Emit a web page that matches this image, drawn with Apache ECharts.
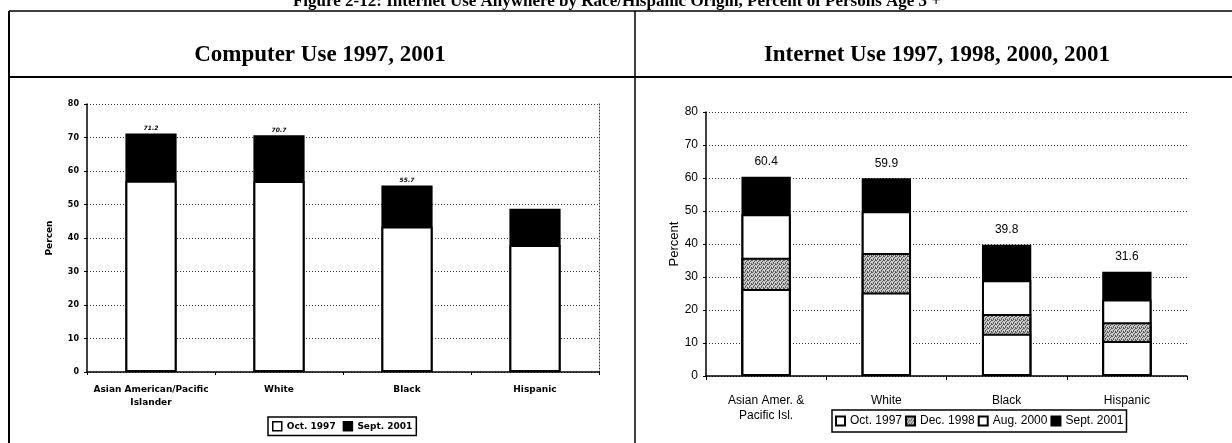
<!DOCTYPE html>
<html>
<head>
<meta charset="utf-8">
<script src="https://cdn.jsdelivr.net/npm/echarts@6/dist/echarts.min.js"></script>
<style>
html, body { margin: 0; padding: 0; background: #fff; }
#chartWrapper { width: 1232px; height: 443px; }
</style>
</head>
<body>
<div id="chartWrapper"></div>
<script>
var figureTitle = 'Figure 2-12: Internet Use Anywhere by Race/Hispanic Origin, Percent of Persons Age 3 +';
var leftTitle = 'Computer Use 1997, 2001';
var rightTitle = 'Internet Use 1997, 1998, 2000, 2001';

// computer use
var compCategories = ['Asian American/Pacific\nIslander', 'White', 'Black', 'Hispanic'];
var compOct1997 = [57.1, 57.0, 43.4, 37.9];
var compSept2001 = [71.2, 70.7, 55.7, 48.7];
var compLabels = ['71.2', '70.7', '55.7', ''];

// internet use
var netCategories = ['Asian Amer. &\nPacific Isl.', 'White', 'Black', 'Hispanic'];
var netOct1997 = [26.4, 25.3, 12.8, 10.6];
var netDec1998 = [35.8, 37.3, 18.8, 16.3];
var netAug2000 = [49.0, 49.9, 29.0, 23.2];
var netSept2001 = [60.4, 59.9, 39.8, 31.6];

var chart = echarts.init(document.getElementById('chartWrapper'));

// stippled fill for Dec. 1998
var stipple = document.createElement('canvas');
stipple.width = 4;
stipple.height = 4;
var sctx = stipple.getContext('2d');
sctx.fillStyle = '#c8c8c8';
sctx.fillRect(0, 0, 4, 4);
sctx.fillStyle = '#5a5a5a';
[[0, 0], [2, 1], [1, 2], [3, 3], [3, 0], [1, 3]].forEach(function (p) {
    sctx.fillRect(p[0], p[1], 1, 1);
});

var boldSmall = { fontFamily: 'DejaVu Sans', fontWeight: 'bold', color: '#000' };
var arial = { fontFamily: 'Liberation Sans', color: '#000' };

function valueAxis(gridIndex, font, size, name, nameGap, nameSize, margin) {
    return {
        type: 'value',
        gridIndex: gridIndex,
        min: 0,
        max: 80,
        interval: 10,
        name: name,
        nameLocation: 'middle',
        nameGap: nameGap,
        nameTextStyle: Object.assign({ fontSize: nameSize }, font),
        axisLine: { show: true, lineStyle: { color: '#000', width: 1.5 } },
        axisTick: { show: true, length: 3, lineStyle: { color: '#000' } },
        axisLabel: Object.assign({ fontSize: size, margin: margin }, font),
        splitLine: { show: true, lineStyle: { color: '#333', type: [1, 2], width: 1 } }
    };
}

var option = {
    backgroundColor: '#fff',
    animation: false,
    graphic: [
        { type: 'line', shape: { x1: 9, y1: 11, x2: 1232, y2: 11 }, style: { stroke: '#000', lineWidth: 1.5 } },
        { type: 'line', shape: { x1: 9, y1: 77, x2: 1232, y2: 77 }, style: { stroke: '#000', lineWidth: 2 } },
        { type: 'line', shape: { x1: 9, y1: 11, x2: 9, y2: 443 }, style: { stroke: '#000', lineWidth: 2 } },
        { type: 'line', shape: { x1: 635, y1: 11, x2: 635, y2: 443 }, style: { stroke: '#000', lineWidth: 1.5 } },
        {
            type: 'text', x: 617, y: 2,
            style: { text: figureTitle, fontFamily: 'Liberation Serif', fontWeight: 'bold', fontSize: 17, align: 'center', verticalAlign: 'middle', fill: '#000' }
        },
        {
            type: 'text', x: 320, y: 55,
            style: { text: leftTitle, fontFamily: 'Liberation Serif', fontWeight: 'bold', fontSize: 23, align: 'center', verticalAlign: 'middle', fill: '#000' }
        },
        {
            type: 'text', x: 937, y: 55,
            style: { text: rightTitle, fontFamily: 'Liberation Serif', fontWeight: 'bold', fontSize: 23, align: 'center', verticalAlign: 'middle', fill: '#000' }
        }
    ],
    grid: [
        { left: 87, top: 104, width: 512, height: 268 },
        { left: 706, top: 112, width: 481, height: 264 }
    ],
    legend: [
        {
            left: 268, top: 417,
            orient: 'horizontal',
            data: ['Oct. 1997', 'Sept. 2001'],
            icon: 'rect',
            itemWidth: 9, itemHeight: 9, itemGap: 7,
            padding: [4, 4],
            borderColor: '#000', borderWidth: 1.5,
            selectedMode: false,
            itemStyle: { borderColor: '#000', borderWidth: 1.5 },
            textStyle: Object.assign({ fontSize: 9 }, boldSmall)
        },
        {
            left: 832, top: 410,
            orient: 'horizontal',
            data: ['Oct. 1997', 'Dec. 1998', 'Aug. 2000', 'Sept. 2001'],
            icon: 'rect',
            itemWidth: 9, itemHeight: 9, itemGap: 3,
            padding: [5, 3],
            borderColor: '#000', borderWidth: 1.5,
            selectedMode: false,
            itemStyle: { borderColor: '#000', borderWidth: 2 },
            textStyle: Object.assign({ fontSize: 12 }, arial)
        }
    ],
    xAxis: [
        {
            type: 'category', gridIndex: 0, data: compCategories,
            axisLine: { lineStyle: { color: '#000', width: 1.5 } },
            axisTick: { show: true, length: 3, lineStyle: { color: '#000' } },
            axisLabel: Object.assign({ fontSize: 9, margin: 11, lineHeight: 13, interval: 0 }, boldSmall)
        },
        {
            type: 'category', gridIndex: 1, data: netCategories,
            axisLine: { lineStyle: { color: '#000', width: 1.5 } },
            axisTick: { show: true, length: 4, lineStyle: { color: '#000' } },
            axisLabel: Object.assign({ fontSize: 12, margin: 17, lineHeight: 15, interval: 0 }, arial)
        }
    ],
    yAxis: [
        valueAxis(0, boldSmall, 8, 'Percen', 33, 9, 8),
        valueAxis(1, arial, 12, 'Percent', 24, 13, 8),
        {
            // dotted right edge of the left plot
            type: 'value', gridIndex: 0, position: 'right', min: 0, max: 80,
            axisLine: { show: true, lineStyle: { color: '#333', type: [1, 2] } },
            axisTick: { show: false }, axisLabel: { show: false }, splitLine: { show: false }
        }
    ],
    series: [
        {
            name: 'Sept. 2001', type: 'bar', xAxisIndex: 0, yAxisIndex: 0,
            barWidth: '40%', barGap: '-100%',
            data: compSept2001,
            itemStyle: { color: '#000', borderColor: '#000', borderWidth: 2 },
            label: Object.assign({
                show: true, position: 'top', distance: 2, fontSize: 6, fontStyle: 'italic',
                formatter: function (p) { return compLabels[p.dataIndex]; }
            }, boldSmall)
        },
        {
            name: 'Oct. 1997', type: 'bar', xAxisIndex: 0, yAxisIndex: 0,
            barWidth: '40%', barGap: '-100%',
            data: compOct1997,
            itemStyle: { color: '#fff', borderColor: '#000', borderWidth: 2 }
        },
        {
            name: 'Sept. 2001', type: 'bar', xAxisIndex: 1, yAxisIndex: 1,
            barWidth: '41%', barGap: '-100%',
            data: netSept2001,
            itemStyle: { color: '#000', borderColor: '#000', borderWidth: 2 },
            label: Object.assign({ show: true, position: 'top', distance: 9, fontSize: 12 }, arial)
        },
        {
            name: 'Aug. 2000', type: 'bar', xAxisIndex: 1, yAxisIndex: 1,
            barWidth: '41%', barGap: '-100%',
            data: netAug2000,
            itemStyle: { color: '#fff', borderColor: '#000', borderWidth: 2 }
        },
        {
            name: 'Dec. 1998', type: 'bar', xAxisIndex: 1, yAxisIndex: 1,
            barWidth: '41%', barGap: '-100%',
            data: netDec1998,
            itemStyle: { color: { image: stipple, repeat: 'repeat' }, borderColor: '#000', borderWidth: 2 }
        },
        {
            name: 'Oct. 1997', type: 'bar', xAxisIndex: 1, yAxisIndex: 1,
            barWidth: '41%', barGap: '-100%',
            data: netOct1997,
            itemStyle: { color: '#fff', borderColor: '#000', borderWidth: 2 }
        }
    ]
};

chart.setOption(option);
</script>
</body>
</html>
